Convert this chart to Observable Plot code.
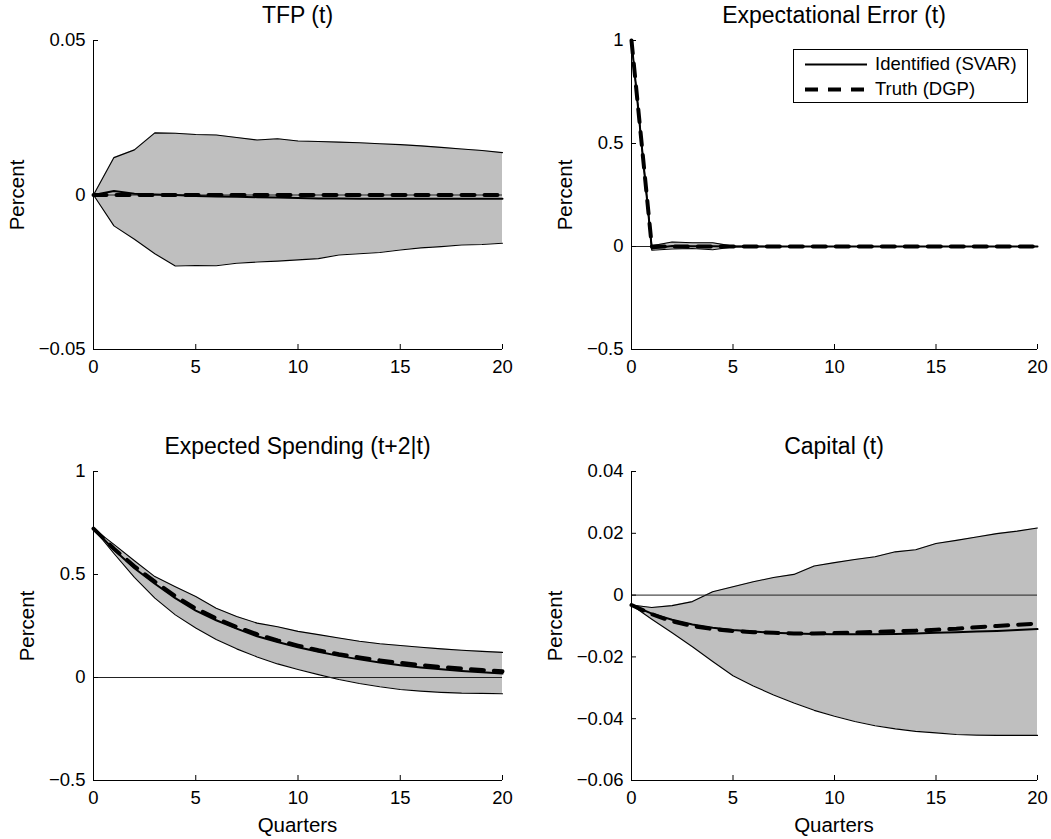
<!DOCTYPE html>
<html>
<head>
<meta charset="utf-8">
<script src="https://cdn.jsdelivr.net/npm/d3@7"></script>
<script src="https://cdn.jsdelivr.net/npm/@observablehq/plot@0.6"></script>
<style>
  html, body { margin: 0; padding: 0; background: #fff; }
  #fig { position: relative; width: 1051px; height: 839px; background: #fff; overflow: hidden;
         font-family: "Liberation Sans", Arial, Helvetica, sans-serif; color: #000; }
  .abs { position: absolute; white-space: nowrap; line-height: 1; }
  .title { font-size: 23px; transform: translateX(-50%); }
  .xlabel { font-size: 20.5px; transform: translateX(-50%); }
  .ylabel { font-size: 20.5px; transform: translate(-50%, -50%) rotate(-90deg); }
  .legend { border: 1px solid #000; background: #fff; box-sizing: border-box; }
  .legend .lt { position: absolute; font-size: 18.5px; line-height: 1; }
</style>
</head>
<body>
<div id="fig"></div>
<script>
// ---------- data ----------
const quarters = [0,1,2,3,4,5,6,7,8,9,10,11,12,13,14,15,16,17,18,19,20];
const xTicks = [0, 5, 10, 15, 20];
const xTickLabels = ["0", "5", "10", "15", "20"];

// TFP (t)
const tfpUpper = [0, 0.0121, 0.0146, 0.0201, 0.0200, 0.0196, 0.0194, 0.0186, 0.0178, 0.0182, 0.0175, 0.0173, 0.0171, 0.0169, 0.0166, 0.0163, 0.0159, 0.0154, 0.0149, 0.0144, 0.0137];
const tfpLower = [0, -0.0100, -0.0143, -0.0190, -0.0230, -0.0228, -0.0229, -0.0221, -0.0217, -0.0214, -0.0210, -0.0206, -0.0194, -0.0190, -0.0186, -0.0178, -0.0171, -0.0167, -0.0162, -0.0160, -0.0156];
const tfpIdentified = [0, 0.0013, 0.0004, 0.0002, 0.0000, -0.0003, -0.0005, -0.0006, -0.0007, -0.0008, -0.0010, -0.0011, -0.0011, -0.0012, -0.0012, -0.0012, -0.0012, -0.0012, -0.0012, -0.0012, -0.0012];
const tfpTruth = [0,0,0,0,0,0,0,0,0,0,0,0,0,0,0,0,0,0,0,0,0];
const tfpYTicks = [-0.05, 0, 0.05];
const tfpYTickLabels = ["\u22120.05", "0", "0.05"];

// Expectational Error (t)
const eeUpper = [1, 0.004, 0.022, 0.018, 0.018, 0.002, 0.001, 0,0,0,0,0,0,0,0,0,0,0,0,0,0];
const eeLower = [1, -0.018, -0.012, -0.010, -0.016, -0.002, -0.001, 0,0,0,0,0,0,0,0,0,0,0,0,0,0];
const eeIdentified = [1, -0.010, 0.002, 0.001, 0.001, 0, 0,0,0,0,0,0,0,0,0,0,0,0,0,0,0];
const eeTruth = [1, 0,0,0,0,0,0,0,0,0,0,0,0,0,0,0,0,0,0,0,0];
const eeYTicks = [-0.5, 0, 0.5, 1];
const eeYTickLabels = ["\u22120.5", "0", "0.5", "1"];

// Expected Spending (t+2|t)
const esUpper = [0.723, 0.646, 0.567, 0.490, 0.441, 0.393, 0.336, 0.296, 0.264, 0.246, 0.224, 0.208, 0.192, 0.176, 0.164, 0.155, 0.147, 0.139, 0.132, 0.127, 0.122];
const esLower = [0.723, 0.602, 0.486, 0.385, 0.304, 0.240, 0.184, 0.139, 0.100, 0.066, 0.039, 0.014, -0.010, -0.029, -0.045, -0.058, -0.066, -0.072, -0.076, -0.077, -0.079];
const esIdentified = [0.723, 0.620, 0.530, 0.455, 0.385, 0.325, 0.278, 0.237, 0.200, 0.172, 0.147, 0.125, 0.105, 0.088, 0.073, 0.060, 0.049, 0.040, 0.032, 0.025, 0.019];
const esTruth = [0.723, 0.625, 0.540, 0.465, 0.395, 0.335, 0.287, 0.245, 0.210, 0.180, 0.155, 0.132, 0.113, 0.097, 0.083, 0.071, 0.060, 0.051, 0.043, 0.036, 0.030];
const esYTicks = [-0.5, 0, 0.5, 1];
const esYTickLabels = ["\u22120.5", "0", "0.5", "1"];

// Capital (t)
const kUpper = [-0.0032, -0.0040, -0.0034, -0.0021, 0.0011, 0.0027, 0.0043, 0.0057, 0.0067, 0.0094, 0.0105, 0.0115, 0.0124, 0.0140, 0.0147, 0.0167, 0.0177, 0.0188, 0.0199, 0.0207, 0.0217];
const kLower = [-0.0032, -0.0078, -0.0122, -0.0167, -0.0215, -0.0261, -0.0294, -0.0323, -0.0349, -0.0373, -0.0392, -0.0409, -0.0423, -0.0433, -0.0441, -0.0446, -0.0451, -0.0453, -0.0454, -0.0454, -0.0454];
const kIdentified = [-0.0032, -0.0060, -0.0080, -0.0095, -0.0106, -0.0113, -0.0118, -0.0122, -0.0124, -0.0126, -0.0127, -0.0127, -0.0127, -0.0126, -0.0124, -0.0122, -0.0120, -0.0118, -0.0116, -0.0113, -0.0110];
const kTruth = [-0.0032, -0.0062, -0.0085, -0.0100, -0.0110, -0.0116, -0.0120, -0.0122, -0.0124, -0.0124, -0.0123, -0.0121, -0.0119, -0.0117, -0.0115, -0.0112, -0.0109, -0.0104, -0.0100, -0.0096, -0.0092];
const kYTicks = [-0.06, -0.04, -0.02, 0, 0.02, 0.04];
const kYTickLabels = ["\u22120.06", "\u22120.04", "\u22120.02", "0", "0.02", "0.04"];

const titles = ["TFP (t)", "Expectational Error (t)", "Expected Spending (t+2|t)", "Capital (t)"];
const yLabel = "Percent";
const xLabel = "Quarters";
const legendLabels = ["Identified (SVAR)", "Truth (DGP)"];

// ---------- layout ----------
const FONT = '"Liberation Sans", Arial, Helvetica, sans-serif';
const fig = document.getElementById("fig");

const panels = [
  { title: titles[0], upper: tfpUpper, lower: tfpLower, id: tfpIdentified, tr: tfpTruth, yTicks: tfpYTicks, yLabels: tfpYTickLabels,
    left: 0, top: 30, width: 520, mL: 93, mR: 18, labelOff: 76, xlab: false },
  { title: titles[1], upper: eeUpper, lower: eeLower, id: eeIdentified, tr: eeTruth, yTicks: eeYTicks, yLabels: eeYTickLabels,
    left: 530, top: 30, width: 521, mL: 101, mR: 14, labelOff: 66, xlab: false, legend: true },
  { title: titles[2], upper: esUpper, lower: esLower, id: esIdentified, tr: esTruth, yTicks: esYTicks, yLabels: esYTickLabels,
    left: 0, top: 461, width: 520, mL: 93, mR: 18, labelOff: 66, xlab: true },
  { title: titles[3], upper: kUpper, lower: kLower, id: kIdentified, tr: kTruth, yTicks: kYTicks, yLabels: kYTickLabels,
    left: 530, top: 461, width: 521, mL: 101, mR: 14, labelOff: 76, xlab: true }
];

const H = 350, mT = 10, mB = 31;

for (const p of panels) {
  const rows = quarters.map((q, i) => ({ q, lo: p.lower[i], hi: p.upper[i], id: p.id[i], tr: p.tr[i] }));
  const yDomain = [p.yTicks[0], p.yTicks[p.yTicks.length - 1]];
  const frameW = p.width - p.mL - p.mR;
  const frameH = H - mT - mB;
  const chart = Plot.plot({
    width: p.width, height: H,
    marginLeft: p.mL, marginRight: p.mR, marginTop: mT, marginBottom: mB,
    style: { fontSize: "18.5px", fontFamily: FONT, color: "black", background: "white", overflow: "visible" },
    x: { domain: [0, 20], ticks: xTicks, tickFormat: d => xTickLabels[xTicks.indexOf(d)], tickSize: 0, tickPadding: 10, label: null },
    y: { domain: yDomain, ticks: p.yTicks, tickFormat: d => p.yLabels[p.yTicks.indexOf(d)], tickSize: 0, tickPadding: 8, label: null },
    marks: [
      Plot.areaY(rows, { x: "q", y1: "lo", y2: "hi", fill: "#bfbfbf" }),
      Plot.lineY(rows, { x: "q", y: "hi", stroke: "black", strokeWidth: 1.1 }),
      Plot.lineY(rows, { x: "q", y: "lo", stroke: "black", strokeWidth: 1.1 }),
      Plot.ruleY([0], { stroke: "#222", strokeWidth: 1 }),
      Plot.lineY(rows, { x: "q", y: "id", stroke: "black", strokeWidth: 2 }),
      Plot.lineY(rows, { x: "q", y: "tr", stroke: "black", strokeWidth: 4, strokeDasharray: "13,10" }),
      Plot.ruleX([0], { stroke: "black", strokeWidth: 1 }),
      Plot.ruleY([yDomain[0]], { stroke: "black", strokeWidth: 1 }),
      Plot.tickX(xTicks, { x: d => d, stroke: "black", strokeWidth: 1, insetTop: frameH - 5 }),
      Plot.tickY(p.yTicks, { y: d => d, stroke: "black", strokeWidth: 1, insetRight: frameW - 5 })
    ]
  });
  chart.style.position = "absolute";
  chart.style.left = p.left + "px";
  chart.style.top = p.top + "px";
  fig.appendChild(chart);

  const frameLeft = p.left + p.mL;
  const frameCx = frameLeft + frameW / 2;
  const frameTop = p.top + mT;

  const t = document.createElement("div");
  t.className = "abs title";
  t.textContent = p.title;
  t.style.left = frameCx + "px";
  t.style.top = (frameTop - 36.5) + "px";
  fig.appendChild(t);

  const yl = document.createElement("div");
  yl.className = "abs ylabel";
  yl.textContent = yLabel;
  yl.style.left = (frameLeft - p.labelOff) + "px";
  yl.style.top = (frameTop + frameH / 2) + "px";
  fig.appendChild(yl);

  if (p.xlab) {
    const xl = document.createElement("div");
    xl.className = "abs xlabel";
    xl.textContent = xLabel;
    xl.style.left = frameCx + "px";
    xl.style.top = (frameTop + frameH + 35) + "px";
    fig.appendChild(xl);
  }

  if (p.legend) {
    const lg = document.createElement("div");
    lg.className = "abs legend";
    lg.style.left = "793px"; lg.style.top = "49px";
    lg.style.width = "235px"; lg.style.height = "54px";
    const ns = "http://www.w3.org/2000/svg";
    const svg = document.createElementNS(ns, "svg");
    svg.setAttribute("width", "233"); svg.setAttribute("height", "52");
    svg.style.position = "absolute"; svg.style.left = "0"; svg.style.top = "0";
    const styles = [{ w: 2, dash: null, y: 14.5 }, { w: 4, dash: "13,10", y: 39.5 }];
    styles.forEach((s, i) => {
      const ln = document.createElementNS(ns, "line");
      ln.setAttribute("x1", 11); ln.setAttribute("x2", 73);
      ln.setAttribute("y1", s.y); ln.setAttribute("y2", s.y);
      ln.setAttribute("stroke", "black"); ln.setAttribute("stroke-width", s.w);
      if (s.dash) ln.setAttribute("stroke-dasharray", s.dash);
      svg.appendChild(ln);
      const tx = document.createElement("div");
      tx.className = "lt";
      tx.textContent = legendLabels[i];
      tx.style.left = "81px";
      tx.style.top = (s.y - 9.5) + "px";
      lg.appendChild(tx);
    });
    lg.insertBefore(svg, lg.firstChild);
    fig.appendChild(lg);
  }
}
</script>
</body>
</html>
